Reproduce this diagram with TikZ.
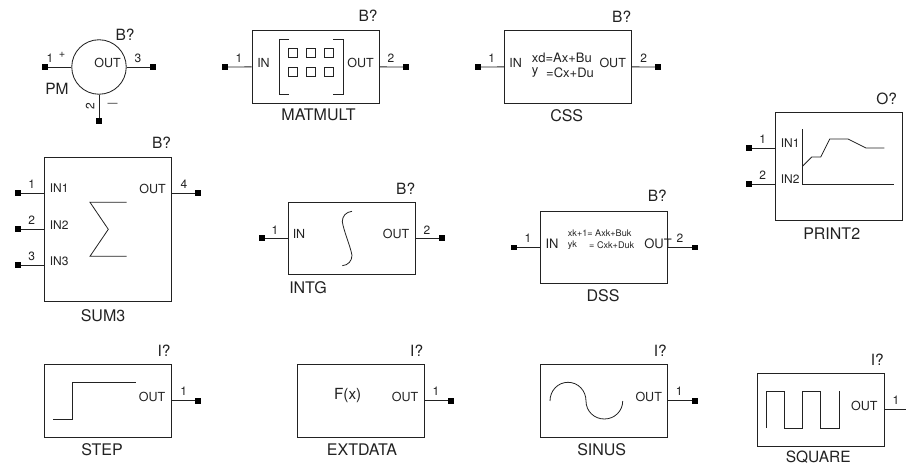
\documentclass[tikz,border=0pt]{standalone}
\usepackage{fontspec}
\setmainfont{TeX Gyre Heros}
\newcommand{\fs}[1]{\fontsize{#1}{#1}\selectfont}
\definecolor{ink}{HTML}{222222}
\tikzset{
  blockbox/.style={draw=ink,line width=0.85pt,rectangle,inner sep=0pt,minimum width=127pt,minimum height=72.5pt},
  roundbox/.style={draw=ink,line width=0.85pt,circle,inner sep=0pt,minimum size=54.5pt},
  pinend/.style={fill=black,draw=none,rectangle,inner sep=0pt,minimum size=5.6pt},
  wire/.style={draw=ink,line width=0.85pt},
  glyph/.style={draw=ink,line width=0.8pt,line join=miter},
  refdes/.style={text=ink,font=\fs{15.5},inner sep=0pt},
  caption/.style={text=ink,font=\fs{16},inner sep=0pt},
  port/.style={text=ink,font=\fs{12.5},inner sep=0pt},
  pinno/.style={text=ink,font=\fs{12},inner sep=0pt},
}
\begin{document}
\begin{tikzpicture}[x=1pt,y=-1pt]
\useasboundingbox (0,0) rectangle (906,465);
% PM
\node[roundbox] (pm) at (99,67) {};
\node[pinend] (pm1) at (45,67) {};
\node[pinend] (pm3) at (153,67) {};
\node[pinend] (pm2) at (99,121) {};
\draw[wire] (pm1) -- (pm.west);
\draw[wire] (pm.east) -- (pm3);
\draw[wire] (pm.south) -- (pm2);
\node[pinno] (pmn1) at (50,58.5) {1};
\node[text=ink,font=\fs{11},inner sep=0pt] (pmplus) at (62,54.5) {+};
\node[refdes] (pmref) at (125,34.5) {B?};
\node[port] (pmout) at (107.5,62.5) {OUT};
\node[pinno] (pmn3) at (138,58.5) {3};
\node[caption,font=\fs{15.5}] (pmcap) at (57,89) {PM};
\node[pinno,rotate=90] (pmn2) at (90,106) {2};
\node[text=ink,font=\fs{10},inner sep=0pt] (pmminus) at (112.7,105) {—};
% MATMULT
\node[blockbox] (mat) at (315.6,66.9) {};
\node[pinend] (mat1) at (225,67) {};
\node[pinend] (mat2) at (406,67) {};
\draw[wire] (mat1) -- (mat.west);
\draw[wire] (mat.east) -- (mat2);
\node[pinno] (matn1) at (239,58.5) {1};
\node[pinno] (matn2) at (391,58.5) {2};
\node[port] (matin) at (263.5,62.5) {IN};
\node[port] (matout) at (360.5,62.5) {OUT};
\node[refdes] (matref) at (368,16) {B?};
\node[caption] (matcap) at (318.5,115.3) {MATMULT};
\draw[glyph] (289,39.3) -- (279,39.3) -- (279,94.3) -- (289,94.3);
\draw[glyph] (333,39.3) -- (343,39.3) -- (343,94.3) -- (333,94.3);
\foreach \px in {293,311,329}{\foreach \py in {53.3,71.7}{
  \draw[glyph,line width=0.7pt] (\px-4.5,\py-4.5) rectangle (\px+4.5,\py+4.5);}}
% CSS
\node[blockbox] (css) at (568.3,66.9) {};
\node[pinend] (css1) at (478,67) {};
\node[pinend] (css2) at (658,67) {};
\draw[wire] (css1) -- (css.west);
\draw[wire] (css.east) -- (css2);
\node[pinno] (cssn1) at (491.7,58.5) {1};
\node[pinno] (cssn2) at (643.7,58.5) {2};
\node[port] (cssin) at (515.7,62.5) {IN};
\node[port] (cssout) at (612.7,62.5) {OUT};
\node[text=ink,font=\fs{13},inner sep=0pt,anchor=west] (csseq1) at (531.7,58) {xd=Ax+Bu};
\node[text=ink,font=\fs{13},inner sep=0pt,anchor=west] (csseq2a) at (531.7,73) {y};
\node[text=ink,font=\fs{13},inner sep=0pt,anchor=west] (csseq2b) at (546,73) {=Cx+Du};
\node[refdes] (cssref) at (621.7,17) {B?};
\node[caption] (csscap) at (566.7,115.3) {CSS};
% SUM3
\node[blockbox,minimum height=144.7pt] (sum) at (108.3,229.3) {};
\node[pinend] (sum1) at (18,193) {};
\node[pinend] (sum2) at (18,229.3) {};
\node[pinend] (sum3) at (18,265.3) {};
\node[pinend] (sum4) at (198,193) {};
\draw[wire] (sum1) -- (sum1 -| sum.west);
\draw[wire] (sum2) -- (sum2 -| sum.west);
\draw[wire] (sum3) -- (sum3 -| sum.west);
\draw[wire] (sum4 -| sum.east) -- (sum4);
\node[pinno] (sumn1) at (31.7,184.5) {1};
\node[pinno] (sumn2) at (31.7,220.5) {2};
\node[pinno] (sumn3) at (31.7,256.5) {3};
\node[pinno] (sumn4) at (184,184.5) {4};
\node[port,font=\fs{12},anchor=west] (sumi1) at (49.7,188.5) {IN1};
\node[port,font=\fs{12},anchor=west] (sumi2) at (49.7,225) {IN2};
\node[port,font=\fs{12},anchor=west] (sumi3) at (49.7,261.5) {IN3};
\node[port] (sumout) at (152.5,188.5) {OUT};
\node[refdes] (sumref) at (161.5,142.7) {B?};
\node[caption] (sumcap) at (103,315.7) {SUM3};
\draw[glyph] (126.7,202.3) -- (90,202.3) -- (108.3,229.3) -- (90,256.3) -- (126.7,256.3);
% INTG
\node[blockbox] (intg) at (351.8,238.3) {};
\node[pinend] (intg1) at (262,238.3) {};
\node[pinend] (intg2) at (442,238.3) {};
\draw[wire] (intg1) -- (intg.west);
\draw[wire] (intg.east) -- (intg2);
\node[pinno] (intgn1) at (275,230) {1};
\node[pinno] (intgn2) at (427,230) {2};
\node[port] (intgin) at (299,234.3) {IN};
\node[port] (intgout) at (396,234.3) {OUT};
\node[refdes] (intgref) at (405.7,188.3) {B?};
\node[caption] (intgcap) at (308,287.7) {INTG};
\draw[glyph] (352,211.3) .. controls (346,212) and (342.3,216) .. (342.3,221.7) .. controls (344,232) and (350,245) .. (352,255.3) .. controls (352,261) and (348,265.3) .. (342.3,265.7);
% DSS
\node[blockbox] (dss) at (604.2,247.3) {};
\node[pinend] (dss1) at (514,247.7) {};
\node[pinend] (dss2) at (695,247.7) {};
\draw[wire] (dss1) -- (dss1 -| dss.west);
\draw[wire] (dss2 -| dss.east) -- (dss2);
\node[pinno] (dssn1) at (528,238.7) {1};
\node[pinno] (dssn2) at (680,238.7) {2};
\node[port,font=\fs{13}] (dssin) at (552,244) {IN};
\node[port,font=\fs{13}] (dssout) at (658,244) {OUT};
\node[text=ink,font=\fs{9.1},inner sep=0pt,anchor=west] (dsseq1) at (567.7,233.7) {xk+1= Axk+Buk};
\node[text=ink,font=\fs{9.1},inner sep=0pt,anchor=west] (dsseq2a) at (567.7,245) {yk};
\node[text=ink,font=\fs{9.1},inner sep=0pt,anchor=west] (dsseq2b) at (589,245) {= Cxk+Duk};
\node[refdes] (dssref) at (657.3,196) {B?};
\node[caption] (dsscap) at (603,296) {DSS};
% PRINT2
\node[blockbox,minimum height=108.3pt] (prt) at (838.8,166.1) {};
\node[pinend] (prt1) at (749,148) {};
\node[pinend] (prt2) at (749,184.3) {};
\draw[wire] (prt1) -- (prt1 -| prt.west);
\draw[wire] (prt2) -- (prt2 -| prt.west);
\node[pinno] (prtn1) at (762.7,139.5) {1};
\node[pinno] (prtn2) at (762.7,175.5) {2};
\node[port,font=\fs{12},anchor=west] (prti1) at (780.7,143.5) {IN1};
\node[port,font=\fs{12},anchor=west] (prti2) at (780.7,179.5) {IN2};
\node[refdes] (prtref) at (886.7,99) {O?};
\node[caption] (prtcap) at (831.7,233.3) {PRINT2};
\draw[glyph] (802.7,129.3) -- (802.7,184.3) -- (893.7,184.3);
\draw[glyph] (802.7,166) -- (811.7,157) -- (820.7,157) -- (829.7,139) -- (848,139) -- (866,148) -- (884.3,148);
% STEP
\node[blockbox] (stp) at (108.3,400.7) {};
\node[pinend] (stp1) at (198,400.7) {};
\draw[wire] (stp.east) -- (stp1);
\node[pinno] (stpn1) at (183.7,391) {1};
\node[port] (stpout) at (152,396.7) {OUT};
\node[refdes] (stpref) at (164,350.7) {I?};
\node[caption] (stpcap) at (102,449.3) {STEP};
\draw[glyph] (53.3,419) -- (72,419) -- (72,382.3) -- (135.7,382.3);
% EXTDATA
\node[blockbox] (ext) at (361.2,400.7) {};
\node[pinend] (ext1) at (451,400.7) {};
\draw[wire] (ext.east) -- (ext1);
\node[pinno] (extn1) at (436,391) {1};
\node[port] (extout) at (405,396.7) {OUT};
\node[text=ink,font=\fs{15.3},inner sep=0pt] (extf) at (347.7,396) {F(x)};
\node[refdes] (extref) at (416.7,350.7) {I?};
\node[caption] (extcap) at (362,449.3) {EXTDATA};
% SINUS
\node[blockbox] (sin) at (604.2,400.7) {};
\node[pinend] (sin1) at (695,400.7) {};
\draw[wire] (sin.east) -- (sin1);
\node[pinno] (sinn1) at (679.3,391) {1};
\node[port] (sinout) at (648.7,396.7) {OUT};
\node[refdes] (sinref) at (660.3,350.7) {I?};
\node[caption] (sincap) at (601.7,449.3) {SINUS};
\draw[glyph] (550,401) .. controls (550,390.7) and (557.8,382.3) .. (568,382.3) .. controls (578.2,382.3) and (586,390.7) .. (586,401) .. controls (586,411.2) and (594.2,419) .. (604.3,419) .. controls (614.5,419) and (622.7,411.2) .. (622.7,401);
% SQUARE
\node[blockbox] (sqr) at (820.8,409.7) {};
\coordinate (sqrend) at (906,409.7);
\draw[wire] (sqr.east) -- (sqrend);
\node[pinno] (sqrn1) at (896,400) {1};
\node[port] (sqrout) at (864.3,405.7) {OUT};
\node[refdes] (sqrref) at (877.3,359.3) {I?};
\node[caption,font=\fs{15.5}] (sqrcap) at (818.3,457) {SQUARE};
\draw[glyph] (766.3,428) -- (766.3,391.3) -- (784.3,391.3) -- (784.3,428) -- (802.3,428) -- (802.3,391.3) -- (820.7,391.3) -- (820.7,428) -- (839,428) -- (839,391.3);
\end{tikzpicture}
\end{document}
